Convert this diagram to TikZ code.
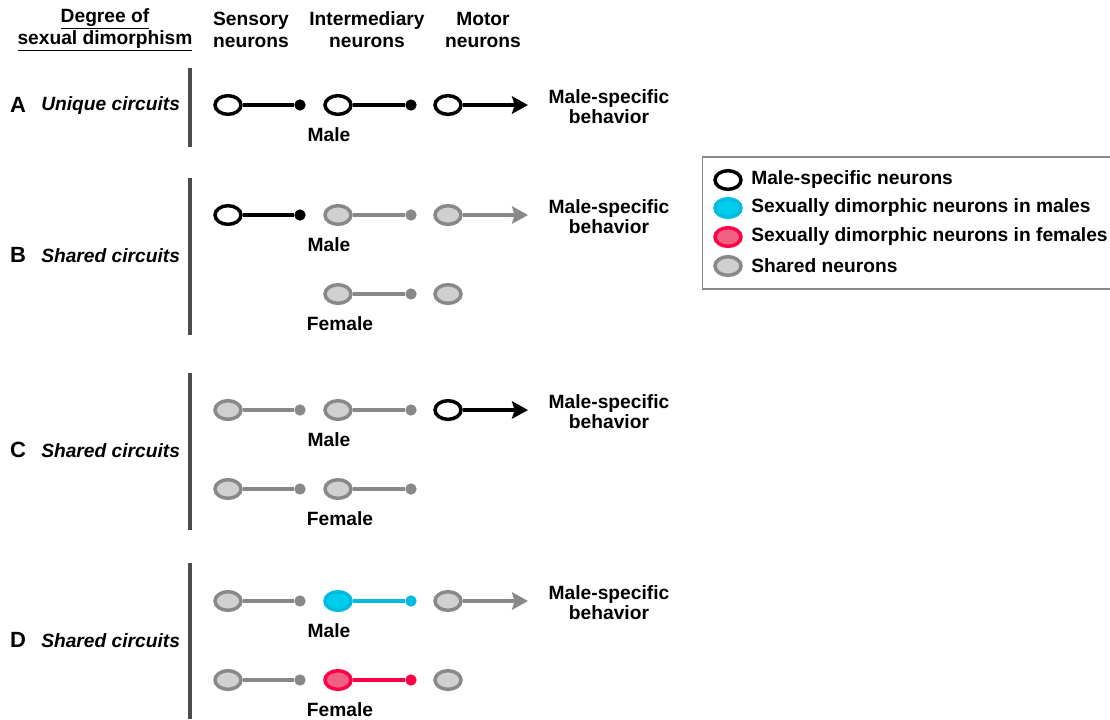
\documentclass[tikz,border=0pt]{standalone}
\usepackage{fontspec}
\setmainfont{Liberation Sans}
\usetikzlibrary{shapes.geometric,arrows.meta}
\definecolor{shgray}{HTML}{888888}
\definecolor{shfill}{HTML}{D0D0D0}
\definecolor{cyfill}{HTML}{00CCEE}
\definecolor{cyline}{HTML}{00BBDD}
\definecolor{rdfill}{HTML}{F06080}
\definecolor{rdline}{HTML}{FF0048}
\definecolor{bargray}{HTML}{4D4D4D}
\tikzset{
  neuron/.style={ellipse,minimum width=19.5pt,minimum height=14pt,inner sep=0pt,line width=2.6pt},
  msn/.style={neuron,draw=black,fill=white},
  shn/.style={neuron,draw=shgray,fill=shfill},
  cyn/.style={neuron,draw=cyline,fill=cyfill},
  rdn/.style={neuron,draw=rdline,fill=rdfill},
  dotk/.style={circle,fill=black,minimum size=8.5pt,inner sep=0pt},
  dotg/.style={circle,fill=shgray,minimum size=8.5pt,inner sep=0pt},
  dotc/.style={circle,fill=cyline,minimum size=8.5pt,inner sep=0pt},
  dotr/.style={circle,fill=rdline,minimum size=8.5pt,inner sep=0pt},
  lk/.style={line width=2.8pt,draw=black},
  lg/.style={line width=2.8pt,draw=shgray},
  lc/.style={line width=2.8pt,draw=cyline},
  lr/.style={line width=2.8pt,draw=rdline},
  arr/.style={-{Stealth[length=12pt,width=13pt,inset=2pt]}},
  txt/.style={font=\fontsize{14.4}{15}\selectfont\bfseries,inner sep=0pt,align=center},
  head/.style={font=\fontsize{14.4}{16.5}\selectfont\bfseries,inner sep=0pt,align=center},
  rowlbl/.style={font=\fontsize{14.4}{15}\selectfont\bfseries\itshape,inner sep=0pt,anchor=west},
  letter/.style={font=\fontsize{16.5}{17}\selectfont\bfseries,inner sep=0pt},
  bar/.style={line width=3pt,draw=bargray},
}
\begin{document}
\begin{tikzpicture}[x=0.75pt,y=-0.75pt]
\useasboundingbox (0,0) rectangle (1110,719);
% headers
\node[head] (h0) at (105,30) {\underline{Degree of}\\\underline{sexual dimorphism}};
\node[head] (h1) at (251,30) {Sensory\\neurons};
\node[head] (h2) at (367,30) {Intermediary\\neurons};
\node[head] (h3) at (483,30) {Motor\\neurons};
% bars
\coordinate (ba1) at (190,68); \coordinate (ba2) at (190,147);
\coordinate (bb1) at (190,178); \coordinate (bb2) at (190,335);
\coordinate (bc1) at (190,373); \coordinate (bc2) at (190,530);
\coordinate (bd1) at (190,563); \coordinate (bd2) at (190,719);
\draw[bar] (ba1) -- (ba2);
\draw[bar] (bb1) -- (bb2);
\draw[bar] (bc1) -- (bc2);
\draw[bar] (bd1) -- (bd2);
% row labels
\node[letter] (la) at (18,105) {A};
\node[rowlbl] (ta) at (41,106) {Unique circuits};
\node[letter] (lb) at (18,255) {B};
\node[rowlbl] (tb) at (41,256) {Shared circuits};
\node[letter] (lc) at (18,450) {C};
\node[rowlbl] (tc) at (41,451) {Shared circuits};
\node[letter] (ld) at (18,640) {D};
\node[rowlbl] (td) at (41,641) {Shared circuits};
% ===== A
\node[msn] (a1) at (228,105) {};
\node[dotk] (a1d) at (300,105) {};
\node[msn] (a2) at (338,105) {};
\node[dotk] (a2d) at (411,105) {};
\node[msn] (a3) at (448,105) {};
\coordinate (a3t) at (528,105);
\draw[lk] (a1.east) -- (a1d);
\draw[lk] (a2.east) -- (a2d);
\draw[lk,arr] (a3.east) -- (a3t);
\node[txt] (am) at (329,135) {Male};
\node[txt] (ab) at (609,107) {Male-specific\\behavior};
% ===== B
\node[msn] (b1) at (228,215) {};
\node[dotk] (b1d) at (300,215) {};
\node[shn] (b2) at (338,215) {};
\node[dotg] (b2d) at (411,215) {};
\node[shn] (b3) at (448,215) {};
\coordinate (b3t) at (528,215);
\draw[lk] (b1.east) -- (b1d);
\draw[lg] (b2.east) -- (b2d);
\draw[lg,arr] (b3.east) -- (b3t);
\node[txt] (bm) at (329,245) {Male};
\node[txt] (bb) at (609,217) {Male-specific\\behavior};
\node[shn] (bf2) at (338,294) {};
\node[dotg] (bf2d) at (411,294) {};
\node[shn] (bf3) at (448,294) {};
\draw[lg] (bf2.east) -- (bf2d);
\node[txt] (bf) at (340,324) {Female};
% ===== C
\node[shn] (c1) at (228,410) {};
\node[dotg] (c1d) at (300,410) {};
\node[shn] (c2) at (338,410) {};
\node[dotg] (c2d) at (411,410) {};
\node[msn] (c3) at (448,410) {};
\coordinate (c3t) at (528,410);
\draw[lg] (c1.east) -- (c1d);
\draw[lg] (c2.east) -- (c2d);
\draw[lk,arr] (c3.east) -- (c3t);
\node[txt] (cm) at (329,440) {Male};
\node[txt] (cb) at (609,412) {Male-specific\\behavior};
\node[shn] (cf1) at (228,489) {};
\node[dotg] (cf1d) at (300,489) {};
\node[shn] (cf2) at (338,489) {};
\node[dotg] (cf2d) at (411,489) {};
\draw[lg] (cf1.east) -- (cf1d);
\draw[lg] (cf2.east) -- (cf2d);
\node[txt] (cf) at (340,519) {Female};
% ===== D
\node[shn] (d1) at (228,601) {};
\node[dotg] (d1d) at (300,601) {};
\node[cyn] (d2) at (338,601) {};
\node[dotc] (d2d) at (411,601) {};
\node[shn] (d3) at (448,601) {};
\coordinate (d3t) at (528,601);
\draw[lg] (d1.east) -- (d1d);
\draw[lc] (d2.east) -- (d2d);
\draw[lg,arr] (d3.east) -- (d3t);
\node[txt] (dm) at (329,631) {Male};
\node[txt] (db) at (609,603) {Male-specific\\behavior};
\node[shn] (df1) at (228,680) {};
\node[dotg] (df1d) at (300,680) {};
\node[rdn] (df2) at (338,680) {};
\node[dotr] (df2d) at (411,680) {};
\node[shn] (df3) at (448,680) {};
\draw[lg] (df1.east) -- (df1d);
\draw[lr] (df2.east) -- (df2d);
\node[txt] (df) at (340,710) {Female};
% ===== legend
\node[draw=shgray,line width=1pt,minimum width=306pt,minimum height=99pt,inner sep=0pt] (leg) at (906.5,223) {};
\node[msn] (k1) at (728,180) {};
\node[cyn] (k2) at (728,208) {};
\node[rdn] (k3) at (728,237) {};
\node[shn] (k4) at (728,266) {};
\node[txt,anchor=west] (k1t) at (751,180) {Male-specific neurons};
\node[txt,anchor=west] (k2t) at (751,208) {Sexually dimorphic neurons in males};
\node[txt,anchor=west] (k3t) at (751,237) {Sexually dimorphic neurons in females};
\node[txt,anchor=west] (k4t) at (751,266) {Shared neurons};
\end{tikzpicture}
\end{document}
